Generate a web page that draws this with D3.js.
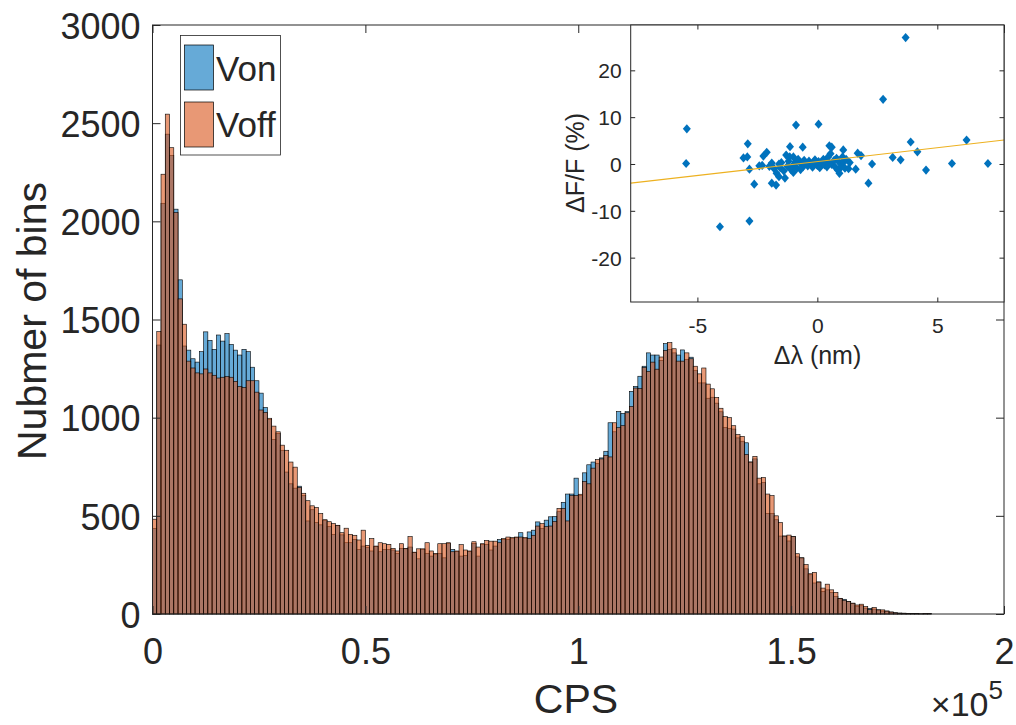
<!DOCTYPE html>
<html><head><meta charset="utf-8">
<script src="https://cdn.jsdelivr.net/npm/d3@7"></script>
<style>
body{margin:0;background:#fff}
svg{display:block}
text{font-family:"Liberation Sans",Arial,Helvetica,sans-serif;fill:#262626}
</style>
</head><body>
<svg id="chart" width="1016" height="725"></svg>
<script>
// ---------------- DATA ----------------
const binWidth = 1000; // CPS per bin, bins start at 0
const seriesNames = ["Von", "Voff"];
const vonCounts = [
 435,1370,2092,2444,2336,2062,1702,1365,1344,1300,
 1283,1336,1437,1394,1348,1421,1390,1428,1373,1344,
 1319,1348,1336,1257,1188,1125,1052,990,889,920,
 834,723,663,641,651,603,474,531,466,454,
 478,446,406,450,403,363,363,380,329,346,
 338,321,344,317,329,329,326,309,334,332,
 341,313,281,329,309,295,305,309,286,360,
 329,318,295,299,318,360,295,355,355,326,
 346,380,380,380,386,390,414,386,418,427,
 469,435,478,495,497,521,569,611,611,692,
 603,719,760,774,766,795,829,974,928,1031,
 1022,1031,1134,1159,1211,1262,1330,1319,1319,1292,
 1377,1347,1330,1319,1345,1296,1308,1240,1177,1177,
 1099,1104,1074,1030,950,945,942,897,880,872,
 774,790,663,670,512,512,480,397,397,372,
 394,291,286,230,200,158,163,115,123,110,
 89,80,75,63,55,40,42,30,29,25,
 21,15,15,10,6,5,4,3,2,3,
 1,2,3
];
const voffCounts = [
 483,1438,2240,2546,2375,2045,1605,1476,1288,1253,
 1228,1223,1248,1228,1216,1202,1206,1209,1206,1185,
 1159,1154,1188,1188,1130,1039,1027,997,957,928,
 860,834,774,748,645,615,577,551,543,512,
 480,470,461,452,414,437,406,401,377,427,
 350,384,346,363,358,355,334,321,358,334,
 394,315,332,332,363,321,309,358,358,363,
 317,321,353,326,321,368,341,358,375,371,
 371,363,384,392,389,392,392,389,384,401,
 448,460,445,448,471,538,538,474,603,603,
 610,675,663,743,786,790,808,800,974,949,
 959,1025,1057,1151,1148,1255,1236,1283,1247,1309,
 1342,1382,1351,1288,1288,1330,1300,1262,1223,1253,
 1171,1147,1103,1048,1005,1000,959,914,905,812,
 774,803,692,695,611,603,500,466,397,402,
 394,307,286,252,205,212,163,132,152,123,
 110,80,70,63,55,46,50,38,22,33,
 21,21,15,10,6,4,4,3,3,2,
 1,1,1
];
const xTicks = [0, 50000, 100000, 150000, 200000];
const xTickLabels = ["0", "0.5", "1", "1.5", "2"];
const yTicks = [0, 500, 1000, 1500, 2000, 2500, 3000];
const yTickLabels = ["0", "500", "1000", "1500", "2000", "2500", "3000"];

// inset scatter: Δλ (nm) and ΔF/F (%)
const dLambda = [
 3.68,2.74,-5.44,-5.47,-0.89,0.05,-4.06,-2.83,-2.90,3.89,6.22,4.17,3.14,3.47,4.53,5.61,7.11,2.13,2.28,1.68,
 1.82,1.60,-2.63,-3.08,-2.92,-2.83,-2.25,-2.11,-2.42,-1.14,-0.61,0.50,0.60,1.08,-1.90,-1.72,
 -2.3,-2.0,-1.9,-1.8,-1.7,-1.6,-1.55,-1.5,-1.4,-1.35,-1.3,-1.25,-1.2,-1.15,-1.1,-1.0,-1.0,-0.9,-0.85,-0.8,
 -0.7,-0.6,-0.55,-0.5,-0.4,-0.35,-0.3,-0.2,-0.15,-0.1,0.0,0.05,0.1,0.2,0.25,0.3,0.35,0.4,0.45,0.5,
 0.55,0.6,0.7,0.75,0.8,0.85,0.9,0.92,1.0,1.05,1.1,1.15,1.2,1.3,1.35,-1.6,-1.0,-0.7,-0.2,0.3
];
const dFF = [
 27.0,13.8,7.5,0.1,8.3,8.5,-13.4,-12.2,4.3,4.7,5.1,2.6,1.4,0.9,-1.3,0.1,0.1,-4.1,0.0,2.3,
 1.8,-1.1,-4.3,1.3,1.5,-1.1,1.7,2.5,-0.4,3.7,3.6,3.9,3.6,3.0,-4.1,-4.5,
 -0.3,-0.5,0.2,-1.0,-2.0,-2.7,-0.8,0.3,-1.5,-3.0,1.9,-0.5,0.6,1.5,-1.2,1.5,-0.2,0.5,-0.9,1.0,
 0.2,-0.6,0.8,0.0,-0.4,0.6,0.2,-0.7,0.4,0.9,-0.3,0.5,-0.8,0.3,1.0,-0.2,0.6,-0.6,1.5,0.2,
 2.2,-0.1,0.8,-0.7,1.2,-1.3,0.4,-2.0,-0.6,1.5,0.5,-0.9,1.0,-1.0,0.3,0.0,-1.8,-1.2,0.0,0.6
];
const fitSlope = 0.593, fitIntercept = 0.51;
const insetXTicks = [-5, 0, 5];
const insetYTicks = [-20, -10, 0, 10, 20];

// ---------------- DRAW ----------------
const svg = d3.select("#chart");
const ink = "#262626";
const M = {left:152.5, right:1004, top:25, bottom:614};
const x = d3.scaleLinear().domain([0, 200000]).range([M.left, M.right]);
const y = d3.scaleLinear().domain([0, 3000]).range([M.bottom, M.top]);

const blue = "rgb(0,114,189)", orange = "rgb(217,83,25)";

function drawBars(counts, color){
  svg.append("g").selectAll("rect")
    .data(counts.map((c,i)=>({i, c})).filter(d=>d.c>0))
    .join("rect")
    .attr("x", d=>x(d.i*binWidth))
    .attr("width", d=>x((d.i+1)*binWidth)-x(d.i*binWidth))
    .attr("y", d=>y(d.c))
    .attr("height", d=>y(0)-y(d.c))
    .attr("fill", color).attr("fill-opacity", 0.6)
    .attr("stroke", "#000").attr("stroke-width", 0.6);
}
drawBars(vonCounts, blue);
drawBars(voffCounts, orange);

function styleAxis(g, fs){
  g.attr("font-size", fs).attr("font-family", null);
  g.select(".domain").remove();
  g.selectAll("line").attr("stroke", ink);
  g.selectAll("text").attr("fill", ink);
}

// main axes
const ax = svg.append("g");
const gl = ax.append("g").attr("transform", `translate(${M.left},0)`)
  .call(d3.axisLeft(y).tickValues(yTicks).tickFormat((d,i)=>yTickLabels[i]).tickSizeInner(-8).tickSizeOuter(0).tickPadding(12));
const gr = ax.append("g").attr("transform", `translate(${M.right},0)`)
  .call(d3.axisRight(y).tickValues(yTicks).tickFormat(()=>"").tickSizeInner(-8).tickSizeOuter(0));
const gb = ax.append("g").attr("transform", `translate(0,${M.bottom})`)
  .call(d3.axisBottom(x).tickValues(xTicks).tickFormat((d,i)=>xTickLabels[i]).tickSizeInner(-8).tickSizeOuter(0).tickPadding(24));
const gt = ax.append("g").attr("transform", `translate(0,${M.top})`)
  .call(d3.axisTop(x).tickValues(xTicks).tickFormat(()=>"").tickSizeInner(-8).tickSizeOuter(0));
[gl,gr,gb,gt].forEach(g=>styleAxis(g, 36));
gl.selectAll("text").attr("dy", "0.37em");
svg.append("rect").attr("x", M.left).attr("y", M.top)
  .attr("width", M.right-M.left).attr("height", M.bottom-M.top)
  .attr("fill", "none").attr("stroke", ink).attr("stroke-width", 1);

// labels
svg.append("text").attr("x", 576).attr("y", 713).attr("text-anchor", "middle")
  .attr("font-size", 41).text("CPS");
svg.append("text").attr("transform", "translate(46,321) rotate(-90)").attr("text-anchor", "middle")
  .attr("font-size", 41).text("Nubmer of bins");
const mult = svg.append("text").attr("x", 1003).attr("y", 716).attr("text-anchor", "end").attr("font-size", 34);
mult.append("tspan").text("×10");
mult.append("tspan").attr("font-size", 26).attr("dy", -17).text("5");

// legend
const lg = svg.append("g");
lg.append("rect").attr("x", 180.5).attr("y", 35.5).attr("width", 100).attr("height", 119.5)
  .attr("fill", "#fff").attr("stroke", ink).attr("stroke-width", 0.8);
[blue, orange].forEach((c,i)=>{
  lg.append("rect").attr("x", 184.5).attr("y", 45 + i*57).attr("width", 29).attr("height", 45)
    .attr("fill", c).attr("fill-opacity", 0.6).attr("stroke", "#000").attr("stroke-width", 0.7);
  lg.append("text").attr("x", 216).attr("y", 81 + i*56).attr("font-size", 35).attr("fill", "#000").text(seriesNames[i]);
});

// ---------------- INSET ----------------
const I = {left:630.7, right:1004, top:25, bottom:302};
const ix = d3.scaleLinear().domain([-7.78, 7.78]).range([I.left, I.right]);
const iy = d3.scaleLinear().domain([-29.47, 29.68]).range([I.bottom, I.top]);
const ins = svg.append("g");
ins.append("rect").attr("x", I.left).attr("y", I.top).attr("width", I.right-I.left).attr("height", I.bottom-I.top)
  .attr("fill", "#fff");
const ia = ins.append("g");
const fmt = d=>d<0 ? "-"+Math.abs(d) : String(d);
const il = ia.append("g").attr("transform", `translate(${I.left},0)`)
  .call(d3.axisLeft(iy).tickValues(insetYTicks).tickFormat(fmt).tickSizeInner(-4.5).tickSizeOuter(0).tickPadding(9));
const ir = ia.append("g").attr("transform", `translate(${I.right},0)`)
  .call(d3.axisRight(iy).tickValues(insetYTicks).tickFormat(()=>"").tickSizeInner(-4.5).tickSizeOuter(0));
const ib = ia.append("g").attr("transform", `translate(0,${I.bottom})`)
  .call(d3.axisBottom(ix).tickValues(insetXTicks).tickFormat(fmt).tickSizeInner(-4.5).tickSizeOuter(0).tickPadding(16));
const it = ia.append("g").attr("transform", `translate(0,${I.top})`)
  .call(d3.axisTop(ix).tickValues(insetXTicks).tickFormat(()=>"").tickSizeInner(-4.5).tickSizeOuter(0));
[il,ir,ib,it].forEach(g=>styleAxis(g, 21));
il.selectAll("text").attr("dy", "0.36em");

// scatter diamonds
const pts = dLambda.map((v,i)=>[v, dFF[i]]);
const dw = 4, dh = 4.6;
ins.append("g").selectAll("path").data(pts).join("path")
  .attr("d", d=>{const cx=ix(d[0]), cy=iy(d[1]);
    return `M${cx},${cy-dh}L${cx+dw},${cy}L${cx},${cy+dh}L${cx-dw},${cy}Z`;})
  .attr("fill", "#0072BD");
// fit line
const xd = ix.domain();
ins.append("line")
  .attr("x1", ix(xd[0])).attr("y1", iy(fitSlope*xd[0]+fitIntercept))
  .attr("x2", ix(xd[1])).attr("y2", iy(fitSlope*xd[1]+fitIntercept))
  .attr("stroke", "#EDB120").attr("stroke-width", 1.2);
ins.append("rect").attr("x", I.left).attr("y", I.top).attr("width", I.right-I.left).attr("height", I.bottom-I.top)
  .attr("fill", "none").attr("stroke", ink).attr("stroke-width", 1);
ins.append("text").attr("x", 817.5).attr("y", 364).attr("text-anchor", "middle").attr("font-size", 25).text("Δλ (nm)");
ins.append("text").attr("transform", "translate(584,163) rotate(-90)").attr("text-anchor", "middle").attr("font-size", 25).text("ΔF/F (%)");
</script>
</body></html>
